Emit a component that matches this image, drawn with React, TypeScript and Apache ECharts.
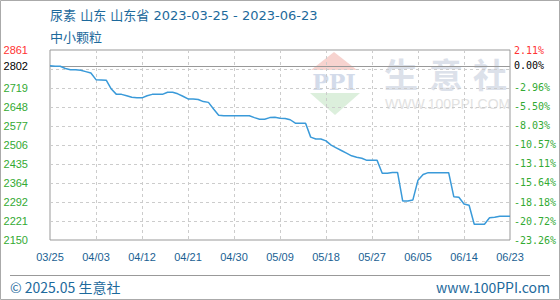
import React, { useEffect, useRef } from "react";
import * as echarts from "echarts";

// ---- data ----
const startDateUTC = Date.UTC(2023, 2, 25);
const dayCount = 91;
const dates: string[] = Array.from({ length: dayCount }, (_, i) => {
  const d = new Date(startDateUTC + i * 86400000);
  const mm = String(d.getUTCMonth() + 1).padStart(2, "0");
  const dd = String(d.getUTCDate()).padStart(2, "0");
  return `${mm}/${dd}`;
});

const prices: number[] = [
  2802, 2800, 2800, 2792, 2787, 2787, 2785, 2780, 2775, 2750,
  2749, 2748, 2715, 2695, 2695, 2690, 2684, 2682, 2682, 2690,
  2695, 2695, 2695, 2703, 2703, 2697, 2688, 2678, 2678, 2676,
  2668, 2665, 2640, 2617, 2615, 2615, 2615, 2615, 2615, 2615,
  2608, 2602, 2602, 2608, 2609, 2606, 2605, 2600, 2587, 2587,
  2587, 2535, 2528, 2528, 2521, 2505, 2495, 2485, 2475, 2465,
  2460, 2456, 2448, 2448, 2448, 2400, 2400, 2403, 2403, 2296,
  2296, 2300, 2374, 2395, 2402, 2402, 2402, 2402, 2402, 2312,
  2310, 2285, 2280, 2209, 2209, 2209, 2233, 2235, 2239, 2239,
  2239,
];

const baseValue = 2802;
const axisMin = 2150;
const axisMax = 2861;
const leftTickValues = [2150, 2221, 2292, 2364, 2435, 2506, 2577, 2648, 2719, 2802, 2861];
const leftTickLabels = ["2150", "2221", "2292", "2364", "2435", "2506", "2577", "2648", "2719", "2802", "2861"];
const rightTickLabels = ["-23.26%", "-20.72%", "-18.18%", "-15.64%", "-13.11%", "-10.57%", "-8.03%", "-5.50%", "-2.96%", "0.00%", "2.11%"];
const gridValues = [2150, 2221.1, 2292.2, 2363.3, 2434.4, 2505.5, 2576.6, 2647.7, 2718.8, 2789.9, 2861];

const titleText = "尿素 山东 山东省 2023-03-25 - 2023-06-23";
const subTitleText = "中小颗粒";
const footerLeft = "© 2025.05 生意社";
const footerRight = "www.100PPI.com";

// ---- helpers ----
function nearestIndex(v: number): number {
  let best = 0;
  let bd = Infinity;
  leftTickValues.forEach((t, i) => {
    const d = Math.abs(t - v);
    if (d < bd) { bd = d; best = i; }
  });
  return best;
}
function styleKey(i: number): string {
  if (i === leftTickValues.length - 1) return "r";
  if (leftTickValues[i] === baseValue) return "k";
  return "g";
}

const BLUE = "#1d6a9c";

export default function App() {
  const ref = useRef<HTMLDivElement>(null);
  useEffect(() => {
    if (!ref.current) return;
    const chart = echarts.init(ref.current, null, { renderer: "svg" });
    const leftRich = {
      r: { color: "#ff3333", fontSize: 11, fontFamily: "Liberation Sans" },
      k: { color: "#000000", fontSize: 11, fontFamily: "Liberation Sans" },
      g: { color: "#33aa33", fontSize: 11, fontFamily: "Liberation Sans" },
    };
    const rightRich = {
      r: { color: "#ff3333", fontSize: 10, fontFamily: "DejaVu Sans Mono" },
      k: { color: "#000000", fontSize: 10, fontFamily: "DejaVu Sans Mono" },
      g: { color: "#33aa33", fontSize: 10, fontFamily: "DejaVu Sans Mono" },
    };
    const option: any = {
      animation: false,
      backgroundColor: "#ffffff",
      grid: {
        left: 50, right: 50, top: 50, bottom: 60,
        show: true, borderColor: "#999", borderWidth: 1, backgroundColor: "transparent",
      },
      xAxis: {
        type: "category",
        data: dates,
        boundaryGap: false,
        axisLine: { show: false },
        axisTick: { show: false },
        axisLabel: {
          interval: 8, color: "#1a5f93", fontSize: 11, margin: 11,
          fontFamily: "Liberation Sans", hideOverlap: false,
        },
        splitLine: {
          show: true,
          interval: (i: number) => i % 9 === 0 && i !== 0 && i !== dayCount - 1,
          lineStyle: { type: [3, 3], color: "#cccccc", width: 1 },
        },
      },
      yAxis: [
        {
          type: "value", min: axisMin, max: axisMax, position: "left",
          axisLine: { show: false }, axisTick: { show: false }, splitLine: { show: false },
          axisLabel: {
            customValues: leftTickValues,
            margin: 22,
            formatter: (v: number) => {
              const i = nearestIndex(v);
              return `{${styleKey(i)}|${leftTickLabels[i]}}`;
            },
            rich: leftRich,
          },
        },
        {
          type: "value", min: axisMin, max: axisMax, position: "right",
          axisLine: { show: false }, axisTick: { show: false }, splitLine: { show: false },
          axisLabel: {
            customValues: leftTickValues,
            margin: 4,
            formatter: (v: number) => {
              const i = nearestIndex(v);
              return `{${styleKey(i)}|${rightTickLabels[i]}}`;
            },
            rich: rightRich,
          },
        },
      ],
      series: [
        {
          type: "line",
          data: prices,
          yAxisIndex: 0,
          symbol: "none",
          lineStyle: { color: "#3a9ad9", width: 1.5 },
          z: 5,
          markLine: {
            silent: true,
            symbol: ["none", "none"],
            label: { show: false },
            animation: false,
            data: [
              ...gridValues.slice(1, -1).map((v) => ({
                yAxis: v,
                lineStyle: { type: [3, 3], color: "#cccccc", width: 1 },
              })),
              { yAxis: baseValue, lineStyle: { type: "solid", color: "#999999", width: 1 } },
            ],
          },
        },
      ],
      graphic: [
        // watermark
        { type: "polygon", z: -10, silent: true, shape: { points: [[334, 52], [311, 70], [357, 70]] }, style: { fill: "#f7d3cf" } },
        { type: "text", z: -10, silent: true, x: 334, y: 82, style: { text: "PPI", fill: "#d3dbea", font: "bold 22px 'DejaVu Serif'", align: "center", verticalAlign: "middle" } },
        { type: "polygon", z: -10, silent: true, shape: { points: [[310, 93], [360, 93], [335, 115]] }, style: { fill: "#dcefdc" } },
        { type: "text", z: -10, silent: true, x: 401, y: 73, style: { text: "生", fill: "#dce1ea", font: "bold 34px 'Noto Sans CJK SC'", align: "center", verticalAlign: "middle" } },
        { type: "text", z: -10, silent: true, x: 446, y: 73, style: { text: "意", fill: "#dce1ea", font: "bold 34px 'Noto Sans CJK SC'", align: "center", verticalAlign: "middle" } },
        { type: "text", z: -10, silent: true, x: 490, y: 73, style: { text: "社", fill: "#dce1ea", font: "bold 34px 'Noto Sans CJK SC'", align: "center", verticalAlign: "middle" } },
        { type: "text", z: -10, silent: true, x: 385, y: 104, style: { text: "WWW.100PPI.COM", fill: "#e2e2e2", font: "14px 'Liberation Sans'", align: "left", verticalAlign: "middle" } },
        // titles
        { type: "text", x: 50, y: 15, style: { text: titleText, fill: BLUE, font: "13px 'DejaVu Sans', 'Noto Sans CJK SC'", align: "left", verticalAlign: "middle" } },
        { type: "text", x: 50, y: 36, style: { text: subTitleText, fill: BLUE, font: "13px 'Noto Sans CJK SC'", align: "left", verticalAlign: "middle" } },
        // frame and footer
        { type: "rect", shape: { x: 0.5, y: 0.5, width: 559, height: 299 }, style: { fill: "none", stroke: "#aaaaaa", lineWidth: 1 } },
        { type: "line", shape: { x1: 10, y1: 275.5, x2: 550, y2: 275.5 }, style: { stroke: "#999999", lineWidth: 1 } },
        { type: "text", x: 10, y: 287, style: { text: footerLeft, fill: BLUE, font: "14px 'Noto Sans CJK SC'", align: "left", verticalAlign: "middle" } },
        { type: "text", x: 550, y: 287, style: { text: footerRight, fill: BLUE, font: "14px 'Noto Sans CJK SC'", align: "right", verticalAlign: "middle" } },
      ],
    };
    chart.setOption(option);
    return () => chart.dispose();
  }, []);
  return <div ref={ref} style={{ position: "absolute", left: 0, top: 0, width: 560, height: 300 }} />;
}
